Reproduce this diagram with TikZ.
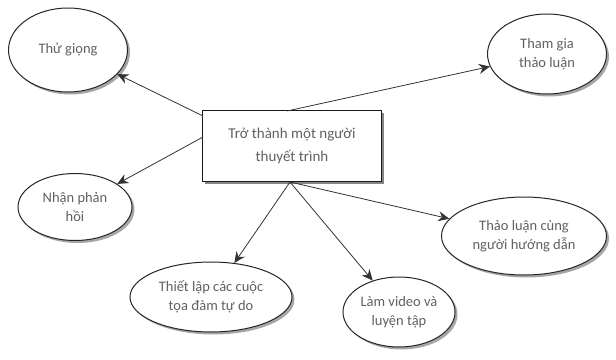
\documentclass[tikz,border=0pt]{standalone}
\usepackage{fontspec}
\setmainfont{Carlito}
\usetikzlibrary{shapes.geometric,shadows,arrows.meta}
\begin{document}
\begin{tikzpicture}[x=1pt,y=-1pt,
  bubble/.style={ellipse, draw=black!85, line width=1pt, fill=white, inner sep=0pt,
    drop shadow={shadow xshift=2.5pt, shadow yshift=-2.5pt, fill=black!50, opacity=0.7},
    text=black!62, font=\fontsize{14.5}{19}\selectfont, align=center},
  mainbox/.style={rectangle, draw=black!90, line width=1pt, fill=white,
    drop shadow={shadow xshift=2pt, shadow yshift=-2pt, fill=black!60, opacity=0.8},
    text=black!62, font=\fontsize{15}{23}\selectfont, align=center},
  link/.style={draw=black!80, line width=0.8pt, -{Stealth[length=11pt,width=10pt]}}]
\useasboundingbox (0,0) rectangle (616,359);
\node[mainbox, minimum width=179pt, minimum height=71pt] (c) at (292,146) {Trở thành một người\\thuyết trình};
\node[bubble, minimum width=119pt, minimum height=84pt] (a) at (68,50) {Thử giọng};
\node[bubble, minimum width=119pt, minimum height=80pt] (b) at (547,54) {Tham gia\\thảo luận};
\node[bubble, minimum width=114pt, minimum height=67pt] (d) at (75,207) {Nhận phản\\hồi};
\node[bubble, minimum width=165pt, minimum height=78pt] (e) at (524,236) {Thảo luận cùng\\người hướng dẫn};
\node[bubble, minimum width=162pt, minimum height=70pt] (f) at (211,297) {Thiết lập các cuộc\\tọa đàm tự do};
\node[bubble, minimum width=112pt, minimum height=70pt] (g) at (399,312) {Làm video và\\luyện tập};
\coordinate (c1) at (203,116);
\coordinate (c2) at (287,111);
\coordinate (c3) at (203,137);
\coordinate (c4) at (290,182);
\draw[link] (c1) -- (a);
\draw[link] (c2) -- (b);
\draw[link] (c3) -- (d);
\draw[link] (c4) -- (e);
\draw[link] (c4) -- (f);
\draw[link] (c4) -- (g);
\end{tikzpicture}
\end{document}
